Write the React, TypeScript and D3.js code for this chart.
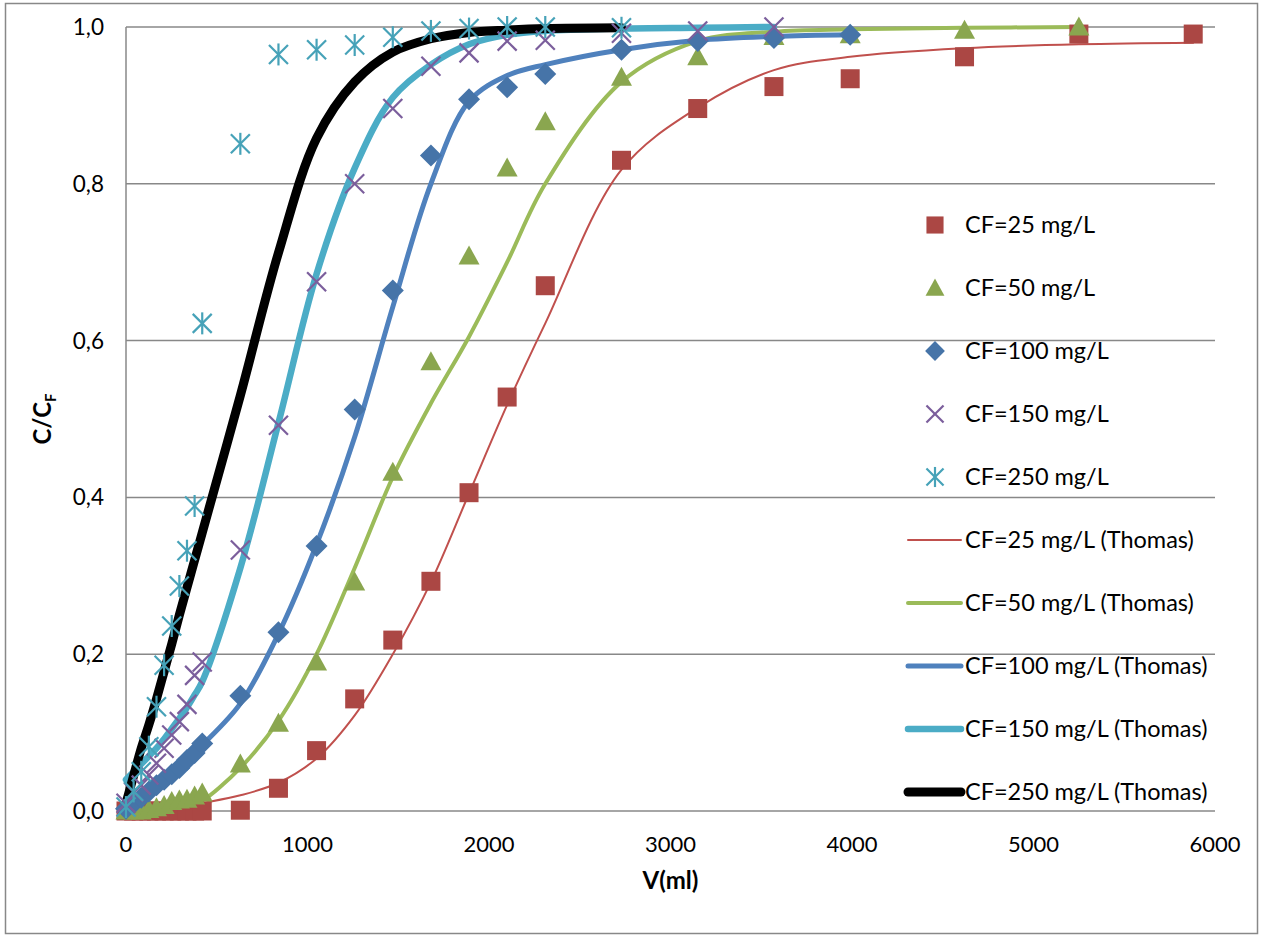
import React from 'react';
import * as d3 from 'd3';

// ---- data ----
const volumes = [0, 42, 84, 126, 168, 210, 252, 294, 336, 378, 420, 630, 840, 1050, 1260, 1470, 1680, 1890, 2100, 2310, 2730, 3150, 3570, 3990, 4620, 5250, 5880];

const obs25 = [0, 0, 0, 0, 0, 0, 0, 0, 0, 0, 0, 0.001, 0.029, 0.077, 0.143, 0.218, 0.293, 0.406, 0.528, 0.670, 0.830, 0.896, 0.924, 0.934, 0.962, 0.991, 0.991];
const obs50 = [0, 0, 0, 0.002, 0.004, 0.007, 0.012, 0.014, 0.015, 0.019, 0.023, 0.060, 0.112, 0.190, 0.292, 0.432, 0.573, 0.708, 0.820, 0.879, 0.936, 0.962, 0.988, 0.990, 0.996, 1.000];
const obs100 = [0.003, 0.010, 0.017, 0.025, 0.033, 0.040, 0.047, 0.055, 0.065, 0.074, 0.086, 0.147, 0.228, 0.338, 0.512, 0.664, 0.836, 0.908, 0.923, 0.940, 0.971, 0.982, 0.986, 0.990];
const obs150 = [0.010, 0.024, 0.033, 0.046, 0.061, 0.080, 0.097, 0.114, 0.136, 0.173, 0.190, 0.333, 0.492, 0.675, 0.800, 0.896, 0.950, 0.967, 0.982, 0.983, 0.992, 0.995, 1.000];
const obs250 = [0.005, 0.025, 0.050, 0.082, 0.133, 0.186, 0.236, 0.287, 0.332, 0.389, 0.622, 0.851, 0.965, 0.971, 0.977, 0.987, 0.995, 0.998, 1.000, 1.000, 0.999];

const thomas25 = [0, 0.001, 0.001, 0.002, 0.003, 0.004, 0.005, 0.006, 0.007, 0.008, 0.010, 0.020, 0.036, 0.067, 0.122, 0.200, 0.292, 0.405, 0.518, 0.622, 0.818, 0.897, 0.945, 0.962, 0.973, 0.978, 0.980];
const thomas50 = [0, 0, 0, 0.001, 0.002, 0.003, 0.004, 0.006, 0.008, 0.010, 0.013, 0.055, 0.115, 0.200, 0.310, 0.426, 0.520, 0.605, 0.700, 0.800, 0.930, 0.982, 0.994, 0.997, 0.999, 1.000];
const thomas100 = [0.002, 0.008, 0.015, 0.022, 0.030, 0.038, 0.046, 0.055, 0.064, 0.074, 0.084, 0.137, 0.226, 0.340, 0.477, 0.643, 0.800, 0.905, 0.938, 0.952, 0.971, 0.983, 0.988, 0.990];
const thomas150 = [0.040, 0.050, 0.060, 0.070, 0.080, 0.092, 0.105, 0.118, 0.132, 0.148, 0.165, 0.310, 0.495, 0.685, 0.820, 0.910, 0.952, 0.978, 0.990, 0.995, 0.998, 0.999, 1.000];
const thomas250 = [0.010, 0.045, 0.080, 0.110, 0.143, 0.178, 0.213, 0.250, 0.285, 0.320, 0.355, 0.530, 0.712, 0.858, 0.930, 0.968, 0.985, 0.993, 0.996, 0.998, 0.999];

const xTicks = [0, 1000, 2000, 3000, 4000, 5000, 6000];
const yTicks = [0, 0.2, 0.4, 0.6, 0.8, 1.0];

const obsLabels = ['CF=25 mg/L', 'CF=50 mg/L', 'CF=100 mg/L', 'CF=150 mg/L', 'CF=250 mg/L'];
const thomasLabels = ['CF=25 mg/L (Thomas)', 'CF=50 mg/L (Thomas)', 'CF=100 mg/L (Thomas)', 'CF=150 mg/L (Thomas)', 'CF=250 mg/L (Thomas)'];

// ---- styles ----
const markerKinds = ['square', 'triangle', 'diamond', 'x', 'star'];
const markerColors = ['#AB4744', '#8AA64F', '#4674A8', '#7B5E9C', '#46A2B8'];
const lineColors = ['#C0504D', '#9BBB59', '#4F81BD', '#4BACC6', '#000000'];
const lineWidths = [2, 4, 5, 6.5, 9];
const FONT = 'Lato, "Open Sans", sans-serif';
const GRID = '#888888';

const W = 1264;
const H = 937;
const plot = { left: 126, right: 1215, top: 27, bottom: 811 };

function Marker({ kind, cx, cy, color, s = 1 }) {
  if (kind === 'square') {
    const h = 9.5 * s;
    return <rect x={cx - h} y={cy - h} width={2 * h} height={2 * h} fill={color} />;
  }
  if (kind === 'triangle') {
    const p = `M${cx},${cy - 10.5 * s}L${cx + 10.5 * s},${cy + 8.5 * s}L${cx - 10.5 * s},${cy + 8.5 * s}Z`;
    return <path d={p} fill={color} />;
  }
  if (kind === 'diamond') {
    const r = 11 * s;
    const p = `M${cx},${cy - r}L${cx + r},${cy}L${cx},${cy + r}L${cx - r},${cy}Z`;
    return <path d={p} fill={color} />;
  }
  const r = 9.5 * s;
  return (
    <g stroke={color} strokeWidth={2.2}>
      <line x1={cx - r} y1={cy - r} x2={cx + r} y2={cy + r} />
      <line x1={cx - r} y1={cy + r} x2={cx + r} y2={cy - r} />
      {kind === 'star' ? <line x1={cx} y1={cy - r - 1.5} x2={cx} y2={cy + r + 1.5} /> : null}
    </g>
  );
}

export default function App() {
  const x = d3.scaleLinear().domain([0, 6000]).range([plot.left, plot.right]);
  const y = d3.scaleLinear().domain([0, 1]).range([plot.bottom, plot.top]);

  const observed = [obs25, obs50, obs100, obs150, obs250];
  const thomas = [thomas25, thomas50, thomas100, thomas150, thomas250];

  const line = d3
    .line<[number, number]>()
    .x((d) => x(d[0]))
    .y((d) => y(d[1]))
    .curve(d3.curveCatmullRom.alpha(0.5));

  const fmt = (v: number) => v.toFixed(1).replace('.', ',');

  return (
    <svg width={W} height={H} style={{ position: 'absolute', left: 0, top: 0, background: '#fff' }}>
      <rect x={5.5} y={3.5} width={1252} height={930} fill="#fff" stroke="#888" strokeWidth={1.5} />

      {/* gridlines */}
      {yTicks.map((t) => (
        <line key={'g' + t} x1={plot.left} x2={plot.right} y1={y(t)} y2={y(t)} stroke={GRID} strokeWidth={1.5} />
      ))}
      <line x1={plot.left} x2={plot.left} y1={plot.top} y2={plot.bottom} stroke={GRID} strokeWidth={1.5} />

      {/* tick labels */}
      {yTicks.map((t) => (
        <text key={'yl' + t} x={104} y={y(t) + 8} textAnchor="end" fontFamily={FONT} fontSize={22.5} fill="#000">
          {fmt(t)}
        </text>
      ))}
      {xTicks.map((t) => (
        <text key={'xl' + t} x={x(t)} y={852} textAnchor="middle" fontFamily={FONT} fontSize={22} fill="#000">
          {t}
        </text>
      ))}

      {/* axis titles */}
      <text x={(plot.left + plot.right) / 2} y={889} textAnchor="middle" fontFamily={FONT} fontWeight="bold" fontSize={24}>
        V(ml)
      </text>
      <text
        transform={`translate(51, ${(plot.top + plot.bottom) / 2}) rotate(-90)`}
        textAnchor="middle"
        fontFamily={FONT}
        fontWeight="bold"
        fontSize={24}
      >
        C/C<tspan fontSize={15} dy={5}>F</tspan>
      </text>

      {/* Thomas model lines */}
      {thomas.map((vals, i) => (
        <path
          key={'l' + i}
          d={line(vals.map((v, j) => [volumes[j], v] as [number, number])) || ''}
          fill="none"
          stroke={lineColors[i]}
          strokeWidth={lineWidths[i]}
          strokeLinecap="round"
          strokeLinejoin="round"
        />
      ))}

      {/* observed markers */}
      {observed.map((vals, i) => (
        <g key={'m' + i}>
          {vals.map((v, j) => (
            <Marker key={j} kind={markerKinds[i]} cx={x(volumes[j])} cy={y(v)} color={markerColors[i]} />
          ))}
        </g>
      ))}

      {/* legend */}
      {obsLabels.map((lab, i) => {
        const cy = 225 + 63 * i;
        return (
          <g key={'lo' + i}>
            <Marker kind={markerKinds[i]} cx={935} cy={cy} color={markerColors[i]} s={0.9} />
            <text x={965} y={cy + 8} fontFamily={FONT} fontSize={23.5} fill="#000">
              {lab}
            </text>
          </g>
        );
      })}
      {thomasLabels.map((lab, i) => {
        const cy = 225 + 63 * (i + 5);
        return (
          <g key={'lt' + i}>
            <line x1={908} x2={961} y1={cy} y2={cy} stroke={lineColors[i]} strokeWidth={lineWidths[i]} strokeLinecap="round" />
            <text x={965} y={cy + 8} fontFamily={FONT} fontSize={23.5} fill="#000">
              {lab}
            </text>
          </g>
        );
      })}
    </svg>
  );
}
